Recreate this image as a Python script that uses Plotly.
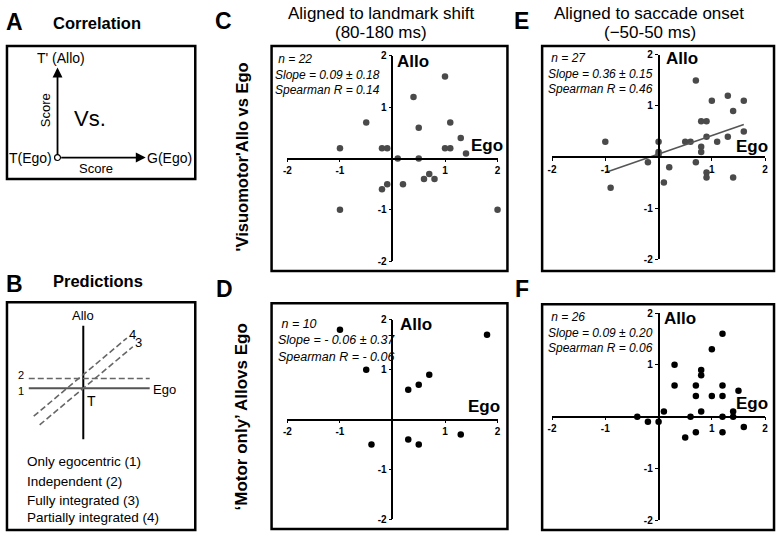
import plotly.graph_objects as go

W, H = 780, 539
FONT = "Liberation Sans, Arial, sans-serif"

# ---------------- data ----------------
c_x = [1.0, 0.4, -0.5, 0.5, 1.1, 1.3, -1.0, -0.2, -0.1, 1.0, 1.1, 1.4, 0.1, 0.5, 0.7, 0.6, 0.8, 0.2, -0.1, -0.2, -1.0, 2.0]
c_y = [1.6, 1.2, 0.7, 0.6, 0.7, 0.4, 0.2, 0.2, 0.2, 0.2, 0.2, 0.1, 0.0, 0.0, -0.3, -0.4, -0.4, -0.5, -0.5, -0.6, -1.0, -1.0]

d_x = [-1.0, 1.8, -0.5, 0.7, 0.5, 0.3, 1.3, 0.3, -0.4, 0.5]
d_y = [1.8, 1.7, 1.0, 0.9, 0.7, 0.6, -0.3, -0.4, -0.5, -0.5]

e_x = [0.7, 1.3, 1.0, 1.6, 1.4, 0.8, 0.9, 1.6, 0.9, 1.3, -1.0, 0.0, 0.5, 0.6, 1.1, 0.8, 0.8, 0.0, 0.0,
       -0.2, 0.7, 0.2, 0.9, 0.9, 1.4, 0.1, -0.9]
e_y = [1.5, 1.2, 1.1, 1.1, 0.9, 0.7, 0.7, 0.5, 0.4, 0.4, 0.3, 0.3, 0.3, 0.3, 0.3, 0.2, 0.1, 0.1, 0.05,
       -0.1, -0.1, -0.2, -0.3, -0.4, -0.4, -0.5, -0.6]
e_fit_x = [-1.0, 1.6]
e_slope = 0.36
e_intercept = 0.06

f_x = [1.2, 1.0, 0.3, 0.8, 0.8, 0.3, 0.7, 1.2, 1.5, 0.7, 1.0, 1.2, 0.1, 0.8, 1.4, -0.4, 0.6, 1.2, 1.4,
       -0.2, 0.0, 1.6, 0.7, 1.2, 0.5]
f_y = [1.6, 1.3, 1.0, 0.9, 0.8, 0.6, 0.6, 0.6, 0.5, 0.4, 0.4, 0.4, 0.1, 0.1, 0.1, 0.0, 0.0, 0.0, 0.0,
       -0.1, -0.1, -0.2, -0.3, -0.3, -0.4]

tick_vals = [-2, -1, 1, 2]
tick_text = ["-2", "-1", "1", "2"]

stats_c = ["n = 22", "Slope = 0.09 ± 0.18", "Spearman R = 0.14"]
stats_d = ["n = 10", "Slope = - 0.06 ± 0.37", "Spearman R = - 0.06"]
stats_e = ["n = 27", "Slope = 0.36 ± 0.15", "Spearman R = 0.46"]
stats_f = ["n = 26", "Slope = 0.09 ± 0.20", "Spearman R = 0.06"]

# schematic predictions (panel B): slope / intercept of each predicted line
pred_labels = ["1", "2", "3", "4"]
pred_slope = [0.0, 0.0, 0.85, 0.85]
pred_intercept = [0.0, 1.0, 0.0, 1.4]
pred_x0 = [-5.5, -5.5, -4.4, -5.0]
pred_x1 = [6.7, 6.7, 5.0, 4.4]
pred_names = ["Only egocentric (1)", "Independent (2)", "Fully integrated (3)", "Partially integrated (4)"]


def px(x):
    return x / W


def py(y):
    return 1 - y / H


fig = go.Figure()
layout = dict(width=W, height=H, margin=dict(l=0, r=0, t=0, b=0),
              paper_bgcolor="white", plot_bgcolor="rgba(0,0,0,0)", showlegend=False,
              font=dict(family=FONT, color="black"))
annotations = []
shapes = []

panels = [
    dict(xs=c_x, ys=c_y, color="#4a4a4a", xd=(286, 498), yd=(51, 261), stats=stats_c, sx=271, sy=70.5, fs=12,
         allo=(413, 57), ego=(487, 143), box=(270, 41, 508, 271)),
    dict(xs=d_x, ys=d_y, color="black", xd=(286, 498), yd=(321, 525), stats=stats_d, sx=274, sy=342, fs=12.5,
         allo=(416, 326), ego=(484, 410), box=(270, 304, 508, 535)),
    dict(xs=e_x, ys=e_y, color="#4a4a4a", xd=(553, 768), yd=(50, 259), stats=stats_e, sx=547, sy=69.5, fs=12,
         allo=(684, 54), ego=(755, 144), box=(543, 41, 777, 271)),
    dict(xs=f_x, ys=f_y, color="black", xd=(553, 768), yd=(314, 526), stats=stats_f, sx=547, sy=333.5, fs=12,
         allo=(682, 320), ego=(755, 407), box=(543, 305, 777, 536)),
]

for i, p in enumerate(panels):
    k = "" if i == 0 else str(i + 1)
    xid, yid = "x" + k, "y" + k
    xdom = [px(p["xd"][0]), px(p["xd"][1])]
    ydom = [py(p["yd"][1]), py(p["yd"][0])]
    ax_common = dict(range=[-2, 2], showgrid=False, zeroline=False, showline=True, linecolor="black",
                     linewidth=1.6, ticks="outside", ticklen=3, tickwidth=1.4, tickcolor="black",
                     tickvals=tick_vals, ticktext=tick_text,
                     tickfont=dict(family=FONT, size=10, color="black", weight="bold"), fixedrange=True)
    layout["xaxis" + k] = dict(ax_common, domain=xdom, anchor="free", position=(ydom[0] + ydom[1]) / 2, side="bottom")
    layout["yaxis" + k] = dict(ax_common, domain=ydom, anchor="free", position=(xdom[0] + xdom[1]) / 2, side="left")
    fig.add_trace(go.Scatter(x=p["xs"], y=p["ys"], mode="markers", xaxis=xid, yaxis=yid, cliponaxis=False,
                             marker=dict(size=6.5, color=p["color"], line=dict(width=0)), hoverinfo="skip"))
    if i == 2:
        fit_y = [e_slope * v + e_intercept for v in e_fit_x]
        fig.add_trace(go.Scatter(x=e_fit_x, y=fit_y, mode="lines", xaxis=xid, yaxis=yid, cliponaxis=False,
                                 line=dict(color="#555555", width=1.6), hoverinfo="skip"))
    x0, y0, x1, y1 = p["box"]
    shapes.append(dict(type="rect", xref="paper", yref="paper", x0=px(x0), x1=px(x1), y0=py(y1), y1=py(y0),
                       line=dict(color="black", width=2.5)))
    stat_lines = ["\u00a0" + p["stats"][0]] + p["stats"][1:]
    annotations.append(dict(text="<i>" + "<br>".join(stat_lines) + "</i>", x=px(p["sx"]), y=py(p["sy"]),
                            xref="paper", yref="paper", xanchor="left", yanchor="middle", align="left",
                            showarrow=False, font=dict(size=p["fs"], family=FONT)))
    annotations.append(dict(text="<b>Allo</b>", x=px(p["allo"][0]), y=py(p["allo"][1]), xref="paper", yref="paper",
                            showarrow=False, font=dict(size=17, family=FONT)))
    annotations.append(dict(text="<b>Ego</b>", x=px(p["ego"][0]), y=py(p["ego"][1]), xref="paper", yref="paper",
                            showarrow=False, font=dict(size=17, family=FONT)))

# ---- panel B diagram axis ----
layout["xaxis5"] = dict(domain=[px(3), px(193)], range=[(3 - 80) / 10, (193 - 80) / 10], visible=False,
                        fixedrange=True, anchor="y5")
layout["yaxis5"] = dict(domain=[py(536), py(303)], range=[(391 - 536) / 10, (391 - 303) / 10], visible=False,
                        fixedrange=True, anchor="x5")
fig.add_trace(go.Scatter(x=[0, 0], y=[-5.2, 6.4], mode="lines", xaxis="x5", yaxis="y5",
                         line=dict(color="black", width=2), hoverinfo="skip"))
dashes = ["solid", "6px,3px", "6px,3px", "6px,3px"]
widths = [2, 1.6, 1.6, 1.6]
colors = ["#555555", "#666666", "#666666", "#666666"]
for s, b, xa, xb, dsh, w, col, lab in zip(pred_slope, pred_intercept, pred_x0, pred_x1, dashes, widths, colors, pred_labels):
    fig.add_trace(go.Scatter(x=[xa, xb], y=[s * xa + b, s * xb + b], mode="lines", xaxis="x5", yaxis="y5",
                             line=dict(color=col, width=w, dash=dsh), hoverinfo="skip"))
    if s == 0:
        annotations.append(dict(text=lab, x=xa - 0.3, y=b + (0.35 if b > 0 else -0.25), xref="x5", yref="y5",
                                xanchor="right", showarrow=False, font=dict(size=11, family=FONT)))
    else:
        annotations.append(dict(text=lab, x=xb + 0.05, y=s * xb + b + 0.4, xref="x5", yref="y5", xanchor="left",
                                showarrow=False, font=dict(size=13, family=FONT)))
annotations.append(dict(text="Allo", x=0, y=7.4, xref="x5", yref="y5", showarrow=False, font=dict(size=13, family=FONT)))
annotations.append(dict(text="Ego", x=6.8, y=-0.1, xref="x5", yref="y5", xanchor="left", showarrow=False,
                        font=dict(size=13, family=FONT)))
annotations.append(dict(text="T", x=0.8, y=-1.3, xref="x5", yref="y5", showarrow=False, font=dict(size=14, family=FONT)))
for j, t in enumerate(pred_names):
    annotations.append(dict(text=t, x=px(21), y=py([466, 486, 506, 523][j]), xref="paper", yref="paper",
                            xanchor="left", showarrow=False, font=dict(size=13.5, family=FONT)))

# ---- panel A schematic ----
shapes.append(dict(type="rect", xref="paper", yref="paper", x0=px(3), x1=px(193), y0=py(177), y1=py(41),
                   line=dict(color="black", width=2.5)))
shapes.append(dict(type="rect", xref="paper", yref="paper", x0=px(3), x1=px(193), y0=py(536), y1=py(303),
                   line=dict(color="black", width=2.5)))
annotations.append(dict(text="", x=px(54), y=py(63), xref="paper", yref="paper", ax=0, ay=89,
                        showarrow=True, arrowhead=2, arrowsize=1.1, arrowwidth=1.8, arrowcolor="black"))
annotations.append(dict(text="", x=px(143), y=py(155), xref="paper", yref="paper", ax=-86, ay=0,
                        showarrow=True, arrowhead=2, arrowsize=1.1, arrowwidth=1.8, arrowcolor="black"))
shapes.append(dict(type="circle", xref="paper", yref="paper", x0=px(51), x1=px(57), y0=py(158), y1=py(152),
                   fillcolor="white", line=dict(color="black", width=1.2)))
annotations += [
    dict(text="T' (Allo)", x=px(58), y=py(53), xref="paper", yref="paper", showarrow=False, font=dict(size=14)),
    dict(text="Score", x=px(42), y=py(107), xref="paper", yref="paper", showarrow=False, textangle=-90,
         font=dict(size=13)),
    dict(text="Vs.", x=px(87), y=py(115), xref="paper", yref="paper", showarrow=False, font=dict(size=22)),
    dict(text="T(Ego)", x=px(50), y=py(155), xref="paper", yref="paper", xanchor="right", showarrow=False,
         font=dict(size=14)),
    dict(text="G(Ego)", x=px(142), y=py(155), xref="paper", yref="paper", xanchor="left", showarrow=False,
         font=dict(size=14)),
    dict(text="Score", x=px(93), y=py(166), xref="paper", yref="paper", showarrow=False, font=dict(size=13)),
]

# ---- titles, panel letters, axis titles ----
annotations += [
    dict(text="<b>A</b>", x=px(11), y=py(16), xref="paper", yref="paper", showarrow=False, font=dict(size=23)),
    dict(text="<b>Correlation</b>", x=px(94), y=py(17), xref="paper", yref="paper", showarrow=False, font=dict(size=16.5)),
    dict(text="<b>B</b>", x=px(11), y=py(284), xref="paper", yref="paper", showarrow=False, font=dict(size=23)),
    dict(text="<b>Predictions</b>", x=px(95), y=py(281), xref="paper", yref="paper", showarrow=False, font=dict(size=16.5)),
    dict(text="<b>C</b>", x=px(221), y=py(15), xref="paper", yref="paper", showarrow=False, font=dict(size=23)),
    dict(text="<b>D</b>", x=px(222), y=py(289), xref="paper", yref="paper", showarrow=False, font=dict(size=23)),
    dict(text="<b>E</b>", x=px(522), y=py(15), xref="paper", yref="paper", showarrow=False, font=dict(size=23)),
    dict(text="<b>F</b>", x=px(523), y=py(289), xref="paper", yref="paper", showarrow=False, font=dict(size=23)),
    dict(text="Aligned to landmark shift", x=px(380), y=py(8), xref="paper", yref="paper", showarrow=False,
         font=dict(size=17)),
    dict(text="(80-180 ms)", x=px(380), y=py(27), xref="paper", yref="paper", showarrow=False, font=dict(size=17)),
    dict(text="Aligned to saccade onset", x=px(651), y=py(8), xref="paper", yref="paper", showarrow=False,
         font=dict(size=17)),
    dict(text="(\u221250-50 ms)", x=px(652), y=py(27), xref="paper", yref="paper", showarrow=False, font=dict(size=17)),
    dict(text="<b>'Visuomotor'Allo vs Ego</b>", x=px(240), y=py(154), xref="paper", yref="paper", showarrow=False,
         textangle=-90, font=dict(size=16.5)),
    dict(text="<b>\u2018Motor only\u2019 Allovs Ego</b>", x=px(240), y=py(420), xref="paper", yref="paper",
         showarrow=False, textangle=-90, font=dict(size=17)),
]

for a in annotations:
    a.setdefault("xanchor", "center")
    a.setdefault("yanchor", "middle")
    a.setdefault("font", {})
    a["font"].setdefault("family", FONT)
    a["font"].setdefault("color", "black")

layout["annotations"] = annotations
layout["shapes"] = shapes
fig.update_layout(**layout)
fig.write_html("out.html", config={"displayModeBar": False}, post_script="document.body.style.margin='0';")
